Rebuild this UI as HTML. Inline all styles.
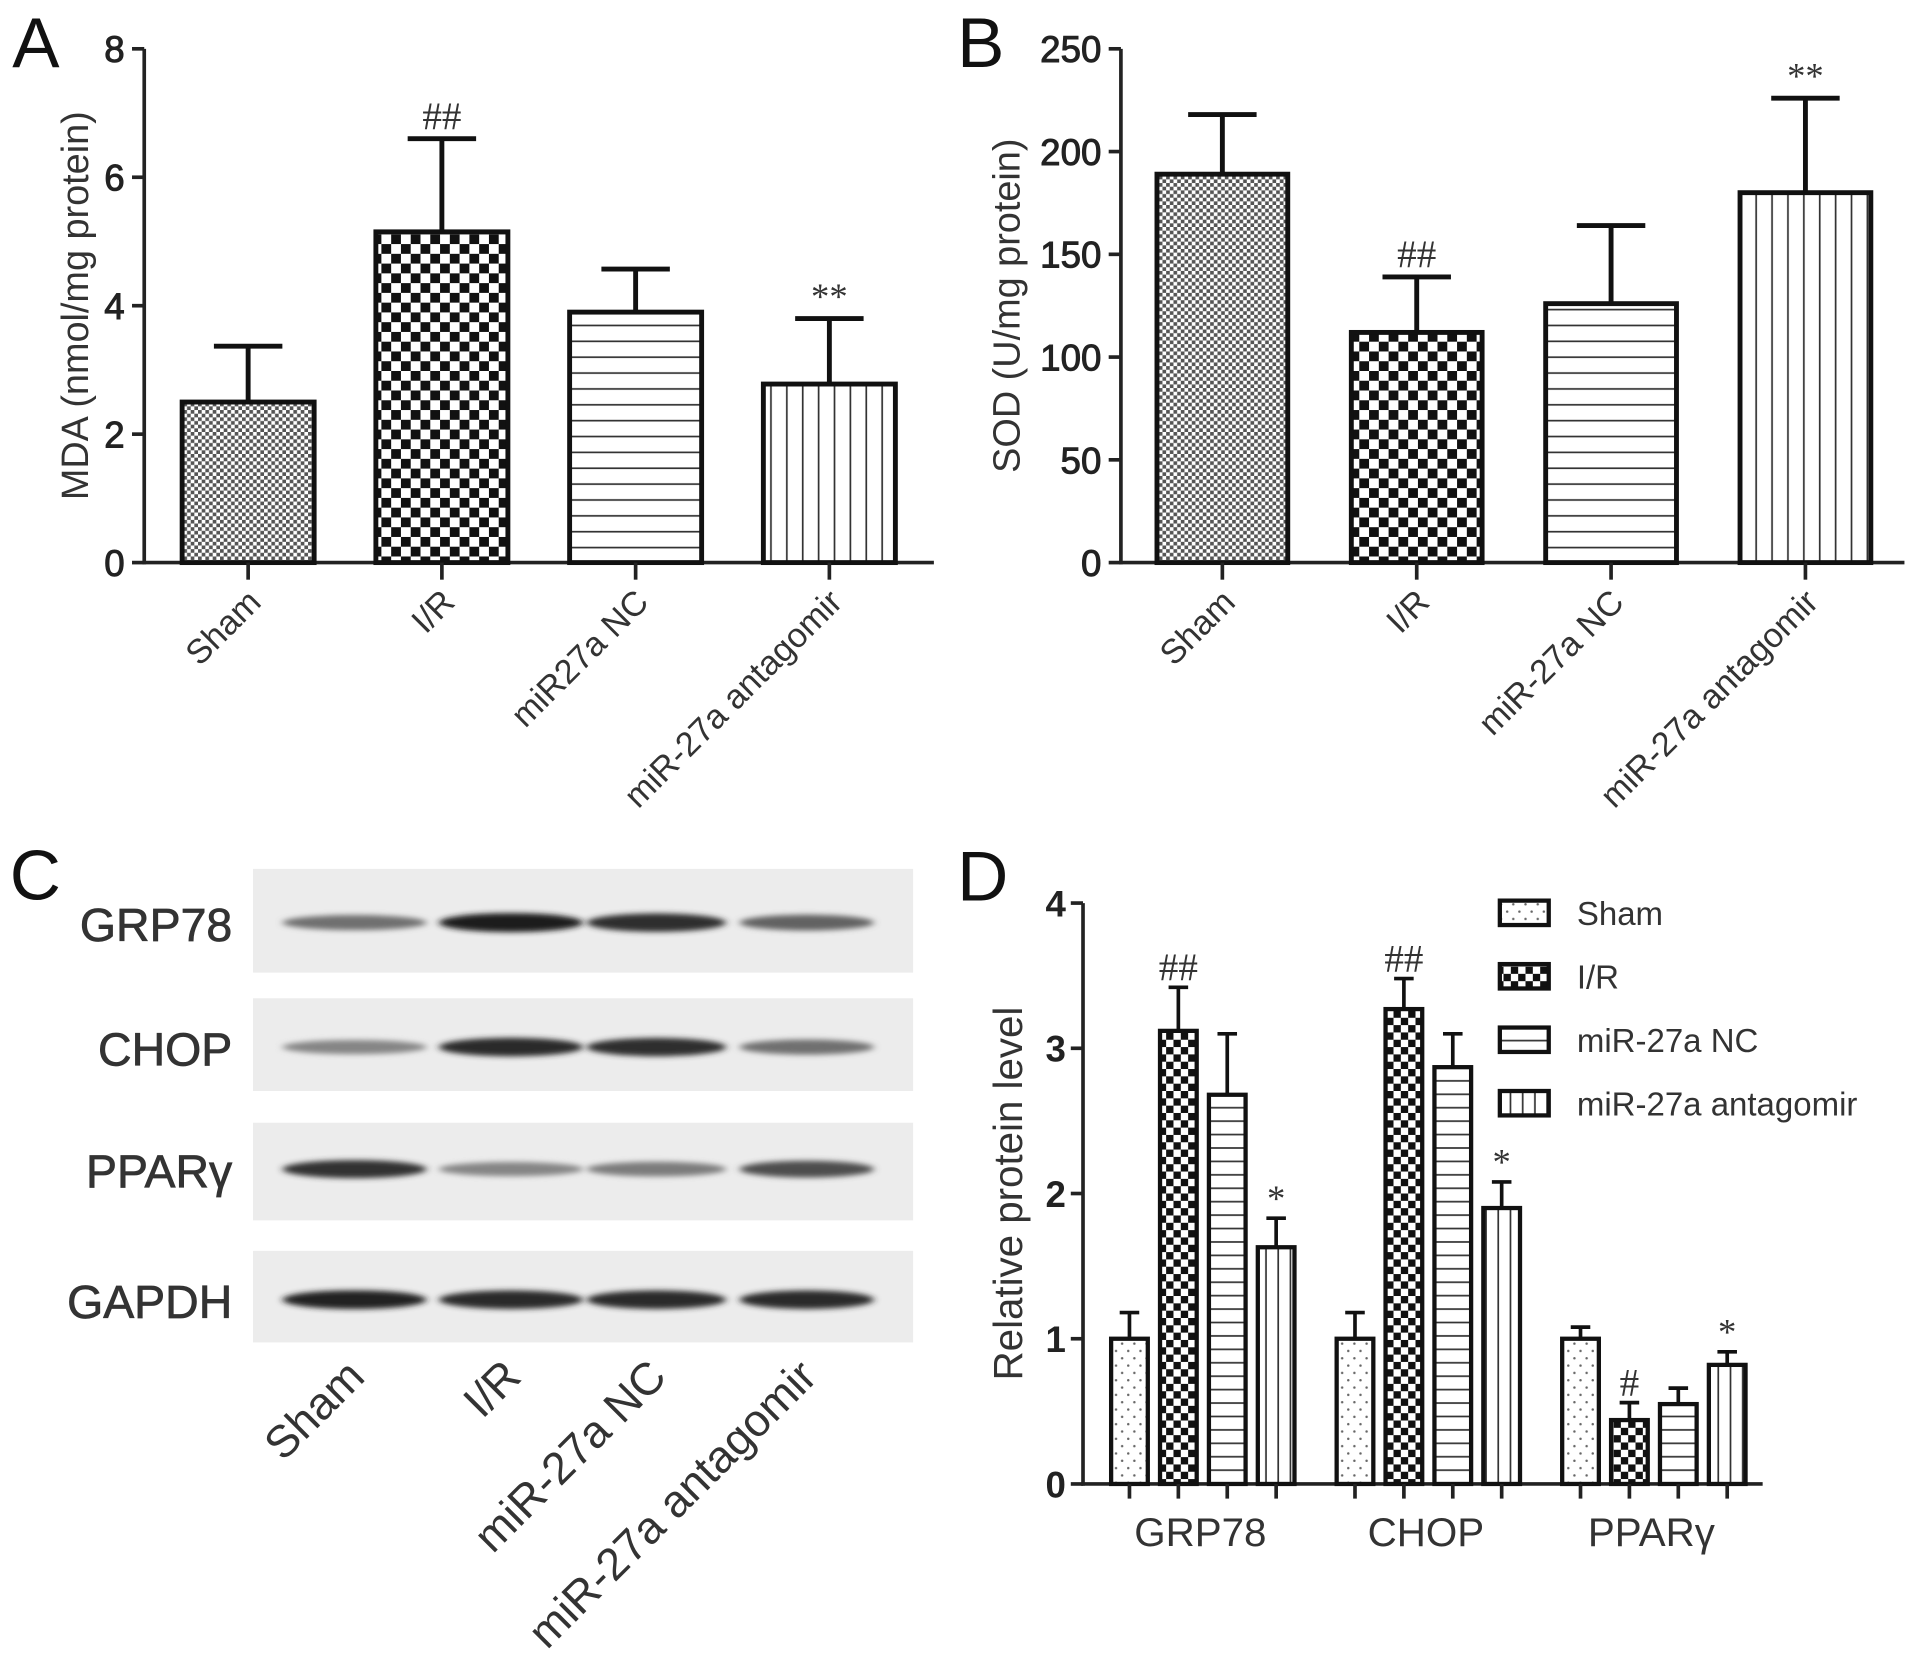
<!DOCTYPE html>
<html><head><meta charset="utf-8">
<style>
html,body{margin:0;padding:0;background:#fff;}
svg{display:block;font-family:"Liberation Sans",sans-serif;}
</style></head>
<body>
<svg id="fig" width="1913" height="1678" viewBox="0 0 1565 1375" preserveAspectRatio="none" xmlns="http://www.w3.org/2000/svg">
<defs>
  <pattern id="pFine" width="6" height="6" patternUnits="userSpaceOnUse">
    <rect width="6" height="6" fill="#fff"/><rect width="3" height="3" fill="#555"/><rect x="3" y="3" width="3" height="3" fill="#555"/>
  </pattern>
  <pattern id="pChk" width="16" height="16" patternUnits="userSpaceOnUse">
    <rect width="16" height="16" fill="#fff"/><rect width="8" height="8" fill="#111"/><rect x="8" y="8" width="8" height="8" fill="#111"/>
  </pattern>
  <pattern id="pChkS" width="12" height="12" patternUnits="userSpaceOnUse">
    <rect width="12" height="12" fill="#fff"/><rect width="6" height="6" fill="#111"/><rect x="6" y="6" width="6" height="6" fill="#111"/>
  </pattern>
  <pattern id="pHor" width="10" height="13" patternUnits="userSpaceOnUse">
    <rect width="10" height="13" fill="#fff"/><rect y="6" width="10" height="1.4" fill="#333"/>
  </pattern>
  <pattern id="pVer" width="13" height="10" patternUnits="userSpaceOnUse">
    <rect width="13" height="10" fill="#fff"/><rect x="6" width="1.4" height="10" fill="#333"/>
  </pattern>
  <pattern id="pHorD" width="10" height="11" patternUnits="userSpaceOnUse">
    <rect width="10" height="11" fill="#fff"/><rect y="5" width="10" height="1.4" fill="#333"/>
  </pattern>
  <pattern id="pVerD" width="10" height="10" patternUnits="userSpaceOnUse">
    <rect width="10" height="10" fill="#fff"/><rect x="5" width="1.4" height="10" fill="#333"/>
  </pattern>
  <pattern id="pDot" width="10" height="12" patternUnits="userSpaceOnUse">
    <rect width="10" height="12" fill="#fff"/><circle cx="3" cy="3" r="1" fill="#666"/><circle cx="8" cy="9" r="1" fill="#666"/>
  </pattern>
  <filter id="blur" x="-20%" y="-100%" width="140%" height="300%"><feGaussianBlur stdDeviation="3 2.2"/></filter>
</defs>
<g id="root"></g>
</svg>
<script>
// ---- Panel A data ----
const catsA = ["Sham","I/R","miR27a NC","miR-27a antagomir"];
const valsA = [2.5, 5.15, 3.9, 2.78];
const errA  = [3.37, 6.6, 4.57, 3.8];
const sigA  = ["", "##", "", "**"];
const ticksA = [0,2,4,6,8];
// ---- Panel B data ----
const catsB = ["Sham","I/R","miR-27a NC","miR-27a antagomir"];
const valsB = [189, 112, 126, 180];
const errB  = [218, 139, 164, 226];
const sigB  = ["", "##", "", "**"];
const ticksB = [0,50,100,150,200,250];
// ---- Panel C data (band darkness 0..1) ----
const blotRows = ["GRP78","CHOP","PPARγ","GAPDH"];
const blotLanes = ["Sham","I/R","miR-27a NC","miR-27a antagomir"];
const blotGRP78 = [0.55, 0.95, 0.88, 0.62];
const blotCHOP  = [0.45, 0.9, 0.88, 0.55];
const blotPPAR  = [0.85, 0.45, 0.5, 0.72];
const blotGAPDH = [0.92, 0.9, 0.9, 0.9];
// ---- Panel D data ----
const groupsD = ["GRP78","CHOP","PPARγ"];
const seriesD = ["Sham","I/R","miR-27a NC","miR-27a antagomir"];
const dSham = [1.0, 1.0, 1.0];
const dIR   = [3.12, 3.27, 0.44];
const dNC   = [2.68, 2.87, 0.55];
const dAnt  = [1.63, 1.9, 0.82];
const eSham = [1.18, 1.18, 1.08];
const eIR   = [3.42, 3.48, 0.56];
const eNC   = [3.1, 3.1, 0.66];
const eAnt  = [1.83, 2.08, 0.91];
const sigD_IR  = ["##","##","#"];
const sigD_Ant = ["*","*","*"];
const ticksD = [0,1,2,3,4];

const NS="http://www.w3.org/2000/svg";
const root=document.getElementById('root');
function el(tag, attrs, parent, text){
  const e=document.createElementNS(NS,tag);
  for(const k in attrs) e.setAttribute(k,attrs[k]);
  if(text!==undefined) e.textContent=text;
  (parent||root).appendChild(e); return e;
}
function grp(name){ const g=el('g',{});   return g; }

function barPanel(opt){
  const g=grp(opt.name);
  const y=v=>opt.y0-(v-opt.min)/(opt.max-opt.min)*(opt.y0-opt.yTop);
  const ax=el('line',{x1:opt.ax,y1:opt.yTop,x2:opt.ax,y2:opt.y0+1.5,stroke:'#222','stroke-width':3},g);
   
  const xx=el('line',{x1:opt.ax-1.5,y1:opt.y0,x2:opt.axEnd,y2:opt.y0,stroke:'#222','stroke-width':3},g);
   
  opt.ticks.forEach(t=>{
    el('line',{x1:opt.ax-10,y1:y(t),x2:opt.ax,y2:y(t),stroke:'#222','stroke-width':3},g);
    const tl=el('text',{x:opt.ax-16,y:y(t)+11,'text-anchor':'end','font-size':30,fill:'#222',stroke:'#222','stroke-width':0.8},g,String(t));
     
  });
  const yl=el('text',{transform:`translate(${opt.ylx},${(opt.yTop+opt.y0)/2}) rotate(-90)`,'text-anchor':'middle','font-size':31,fill:'#333'},g,opt.ylabel);
   
  opt.cats.forEach((c,i)=>{
    const cx=opt.x0+i*opt.step, w=opt.bw;
    const b=el('rect',{x:cx-w/2,y:y(opt.vals[i]),width:w,height:opt.y0-y(opt.vals[i]),fill:`url(#${opt.pats[i]})`,stroke:'#111','stroke-width':4},g);
    
    
    el('line',{x1:cx,y1:y(opt.vals[i]),x2:cx,y2:y(opt.err[i]),stroke:'#111','stroke-width':4},g);
    el('line',{x1:cx-28,y1:y(opt.err[i]),x2:cx+28,y2:y(opt.err[i]),stroke:'#111','stroke-width':4},g);
    if(opt.sig[i]){
      const s=el('text',{x:cx,y:y(opt.err[i])-8,'text-anchor':'middle','font-size':opt.sig[i][0]=='#'?32:30,fill:'#333','font-family':'Liberation Serif, serif'},g,opt.sig[i]);
       
    }
    el('line',{x1:cx,y1:opt.y0,x2:cx,y2:opt.y0+14,stroke:'#222','stroke-width':3},g);
    const xl=el('text',{transform:`translate(${cx+12},${opt.y0+34}) rotate(-45)`,'text-anchor':'end','font-size':28,fill:'#333'},g,c);
     
  });
  const L=el('text',{x:opt.lx,y:opt.ly,'font-size':58,fill:'#111'},g,opt.letter);
   
}

barPanel({name:'panel-a-mda-chart',cats:catsA,vals:valsA,err:errA,sig:sigA,ticks:ticksA,min:0,max:8,
  ax:118,axEnd:764,yTop:40,y0:461,x0:203,step:158.5,bw:108,ylx:72,ylabel:'MDA (nmol/mg protein)',
  pats:['pFine','pChk','pHor','pVer'],letter:'A',lx:10,ly:55});
barPanel({name:'panel-b-sod-chart',cats:catsB,vals:valsB,err:errB,sig:sigB,ticks:ticksB,min:0,max:250,
  ax:917,axEnd:1558,yTop:40,y0:461,x0:1000,step:159,bw:107,ylx:834,ylabel:'SOD (U/mg protein)',
  pats:['pFine','pChk','pHor','pVer'],letter:'B',lx:783,ly:55});

// ---- Panel C: western blot ----
(function(){
  const g=grp('panel-c-western-blot');
  const L=el('text',{x:8,y:737,'font-size':58,fill:'#111'},g,'C');
   
  const rowsY=[[712,797],[818,894],[920,1000],[1025,1100]];
  const dens=[blotGRP78,blotCHOP,blotPPAR,blotGAPDH];
  const laneX=[290,418,537,660], bandW=[118,118,114,110];
  blotRows.forEach((r,ri)=>{
    const [y1,y2]=rowsY[ri];
    const bg=el('rect',{x:207,y:y1,width:540,height:y2-y1,fill:'#ececec'},g);
    
    
    const by=ri==0?y1+44:ri==1?y1+40:ri==2?y1+38:y1+40;
    const lab=el('text',{x:190,y:by+15,'text-anchor':'end','font-size':38,fill:'#333',stroke:'#333','stroke-width':0.6},g,r);
     
    laneX.forEach((lx,li)=>{
      const d=dens[ri][li]; const c=Math.round(225-d*205);
      const b=el('ellipse',{cx:lx,cy:by,rx:bandW[li]/2,ry:4+d*4,fill:`rgb(${c},${c},${c})`,filter:'url(#blur)'},g);
       
    });
  });
  blotLanes.forEach((n,i)=>{
    const t=el('text',{transform:`translate(${laneX[i]+10},${1130}) rotate(-45)`,'text-anchor':'end','font-size':37,fill:'#333'},g,n);
     
  });
})();

// ---- Panel D ----
(function(){
  const g=grp('panel-d-protein-chart');
  const y0=1216,yTop=740,ax=886;
  const y=v=>y0-v/4*(y0-yTop);
  const L=el('text',{x:783,y:738,'font-size':58,fill:'#111'},g,'D');
   
  el('line',{x1:ax,y1:yTop,x2:ax,y2:y0+1.5,stroke:'#222','stroke-width':3},g);
  el('line',{x1:ax-1.5,y1:y0,x2:1442,y2:y0,stroke:'#222','stroke-width':3},g);
  ticksD.forEach(t=>{
    el('line',{x1:ax-10,y1:y(t),x2:ax,y2:y(t),stroke:'#222','stroke-width':3},g);
    const tl=el('text',{x:ax-14,y:y(t)+11,'text-anchor':'end','font-size':30,'font-weight':'bold',fill:'#222'},g,String(t));
     
  });
  const yl=el('text',{transform:`translate(836,${(y0+yTop)/2}) rotate(-90)`,'text-anchor':'middle','font-size':33,fill:'#333'},g,'Relative protein level');
   
  const vals=[dSham,dIR,dNC,dAnt], errs=[eSham,eIR,eNC,eAnt];
  const pats=['pDot','pChkS','pHorD','pVerD'];
  groupsD.forEach((gn,gi)=>{
    const gx=924+gi*184.5;
    seriesD.forEach((s,si)=>{
      const cx=gx+si*40, w=30, v=vals[si][gi], e=errs[si][gi];
      const b=el('rect',{x:cx-w/2,y:y(v),width:w,height:y0-y(v),fill:`url(#${pats[si]})`,stroke:'#111','stroke-width':3.5},g);
      
      
      el('line',{x1:cx,y1:y(v),x2:cx,y2:y(e),stroke:'#111','stroke-width':3},g);
      el('line',{x1:cx-8,y1:y(e),x2:cx+8,y2:y(e),stroke:'#111','stroke-width':3},g);
      el('line',{x1:cx,y1:y0,x2:cx,y2:y0+12,stroke:'#222','stroke-width':3},g);
      let sg = si==1?sigD_IR[gi]:si==3?sigD_Ant[gi]:'';
      if(sg){
        const st=el('text',{x:cx,y:y(e)-6,'text-anchor':'middle','font-size':sg[0]=='#'?32:30,fill:'#333','font-family':'Liberation Serif, serif'},g,sg);
         
      }
    });
    const xl=el('text',{x:gx+58,y:1267,'text-anchor':'middle','font-size':33,fill:'#333'},g,gn);
     
  });
  seriesD.forEach((s,si)=>{
    const ly=738+si*52;
    const r=el('rect',{x:1227,y:ly,width:40,height:20,fill:`url(#${pats[si]})`,stroke:'#111','stroke-width':3.5},g);
     
    const t=el('text',{x:1290,y:ly+20,'font-size':27,fill:'#333'},g,s);
     
  });
})();
</script>
</body></html>
